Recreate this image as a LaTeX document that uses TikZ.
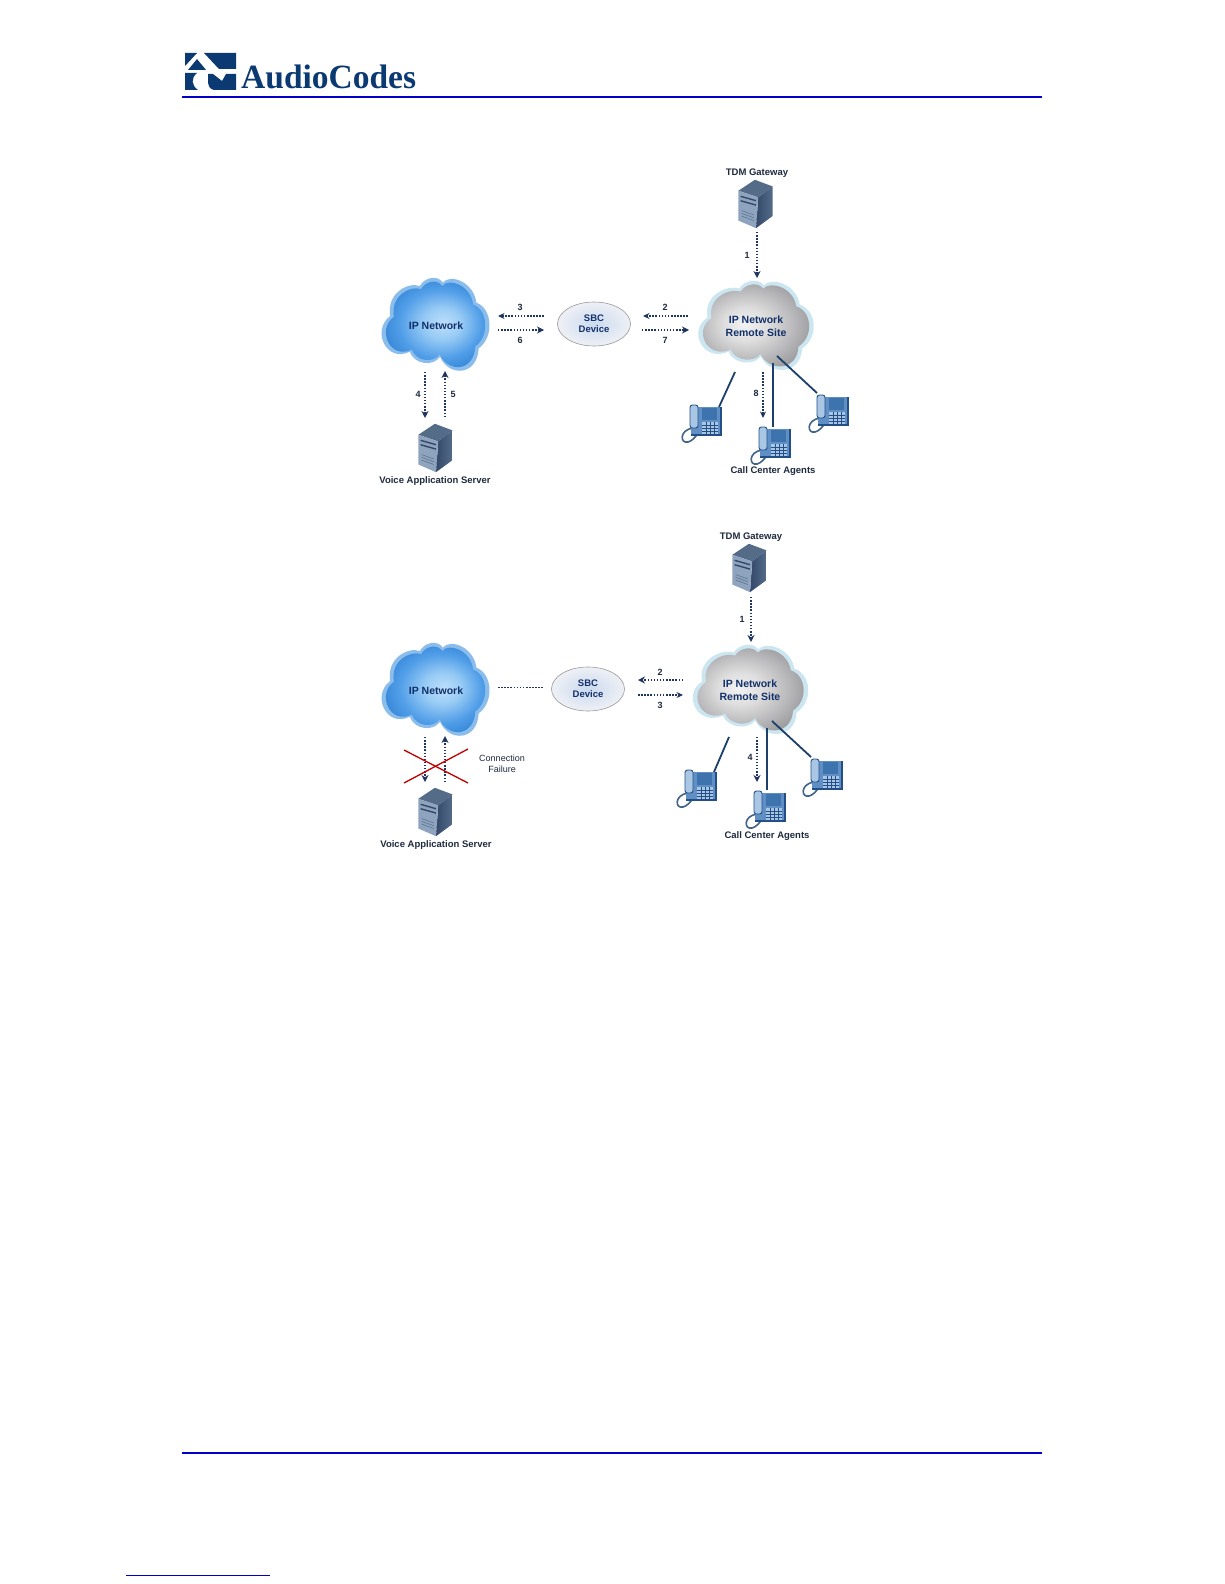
\documentclass[tikz,border=0pt]{standalone}
\usepackage{fontspec}
\setmainfont{Liberation Sans}
\newfontfamily\logofont{Liberation Serif}
\usetikzlibrary{arrows.meta,shapes.geometric}
\definecolor{navy}{HTML}{0B3A73}
\definecolor{flowc}{HTML}{1F3560}
\definecolor{rulec}{HTML}{0000C8}
\definecolor{labc}{HTML}{1E2A3E}
\definecolor{netc}{HTML}{12306A}
\definecolor{bluehalo}{HTML}{8ABDEC}
\definecolor{greyhalo}{HTML}{CBE6F1}
\definecolor{srvfront}{HTML}{8DA3BE}
\definecolor{srvright}{HTML}{34496A}
\definecolor{srvtop}{HTML}{546C88}
\definecolor{phbody}{HTML}{5F8FC4}
\definecolor{phdark}{HTML}{234F86}
\definecolor{phscreen}{HTML}{3E74AE}
\definecolor{phlight}{HTML}{A9C6E4}
\definecolor{sbcin}{HTML}{CBDAEF}
\definecolor{sbcout}{HTML}{EEF0F5}
\pgfdeclareradialshading{cloudblue}{\pgfpoint{5bp}{1bp}}{rgb(0bp)=(.74,.87,.98);rgb(8bp)=(.60,.80,.96);rgb(18bp)=(.32,.62,.91);rgb(34bp)=(.08,.42,.77);rgb(50bp)=(.06,.38,.72)}
\pgfdeclareradialshading{cloudgrey}{\pgfpoint{-4bp}{1bp}}{rgb(0bp)=(.95,.95,.95);rgb(9bp)=(.87,.87,.87);rgb(20bp)=(.71,.71,.72);rgb(34bp)=(.50,.50,.51);rgb(50bp)=(.47,.47,.47)}
\tikzset{
  flowthick/.style={draw=flowc,line width=1.7pt,dash pattern=on 1.4pt off 1.7pt,-{Stealth[length=7pt,width=7pt,flowc]}},
  flowthin/.style={draw=flowc,line width=1.2pt,dash pattern=on 1.6pt off 1.5pt,-{Stealth[length=6.5pt,width=6pt,flowc]}},
  flowplain/.style={draw=flowc,line width=.9pt,dash pattern=on 1.6pt off 1.5pt},
  phoneline/.style={draw=phdark!80!black,line width=1.8pt},
  redcross/.style={draw=red!75!black,line width=1.3pt},
  biglab/.style={font=\fontsize{9.5}{11}\selectfont\bfseries,text=labc,inner sep=0pt},
  numlab/.style={font=\fontsize{9}{10}\selectfont\bfseries,text=labc,inner sep=0pt},
  netlab/.style={font=\fontsize{10.5}{13}\selectfont\bfseries,text=netc,inner sep=0pt,align=center},
  sbclab/.style={font=\fontsize{9.5}{11}\selectfont\bfseries,text=netc,inner sep=0pt,align=center},
  faillab/.style={font=\fontsize{9}{11.3}\selectfont,text=labc,inner sep=0pt,align=center},
  sbcshape/.style={ellipse,draw=black!40,line width=.6pt,inner color=sbcin,outer color=sbcout,minimum width=73pt,minimum height=44pt,inner sep=0pt},
  rulebar/.style={draw=rulec,line width=2pt},
  rulefine/.style={draw=rulec,line width=1pt},
  logopart/.style={fill=navy,draw=none},
}
\newcommand\cloudpath{(6.7,-42.3) .. controls (14,-51.7) and (37.3,-43.3) .. (40,-22.3)
 .. controls (55.7,-16.7) and (58,11.7) .. (42.3,23.3)
 .. controls (40.7,51.7) and (12.3,51.7) .. (4,31.7)
 .. controls (-2.7,41.7) and (-21,40) .. (-26,26.7)
 .. controls (-49.3,38.3) and (-64.3,5) .. (-45.3,-9)
 .. controls (-49.3,-31.7) and (-27.7,-43.3) .. (-16,-39)
 .. controls (-11,-48.3) and (2.3,-50) .. (6.7,-42.3) -- cycle}
% #1 x, #2 y, #3 xscale, #4 yscale, #5 halo, #6 shading
\newcommand\cloudat[6]{%
 \begin{scope}[shift={(#1,#2)},xscale=#3,yscale=#4]
  \fill[#5] \cloudpath;
  \begin{scope}[scale=.92]
   \shade[shading=#6] \cloudpath;
  \end{scope}
 \end{scope}}
\newcommand\serverat[3]{%
 \begin{scope}[shift={(#1,#2)},scale=#3]
  \fill[srvtop] (-16,-12) -- (-1,-22) -- (15,-16) -- (2,-6) -- cycle;
  \shade[left color=srvright,right color=srvtop] (2,-6) -- (15,-16) -- (15,11) -- (0,22) -- cycle;
  \fill[srvfront] (-16,-12) -- (2,-6) -- (0,22) -- (-16,15) -- cycle;
  \draw[srvright,line width=1.4pt] (-14,-7) -- (0,-3) (-14,-3) -- (0,1);
  \draw[srvright!60!srvfront,line width=.5pt] (-13,6) -- (-2,10) (-13,8.5) -- (-2,12.5) (-13,11) -- (-2,15);
 \end{scope}}
\newcommand\phoneat[2]{%
 \begin{scope}[shift={(#1,#2)}]
  \draw[phbody!70!black,line width=1.6pt] (-12,8) .. controls (-26,10) and (-25,24) .. (-17,22) .. controls (-13,21) and (-11,18) .. (-8,15);
  \fill[phbody] (-14,-13) rectangle (16,15);
  \draw[phdark,line width=1.2pt] (-14,15) -- (16,15) -- (16,-13);
  \fill[phscreen] (-3,-12) rectangle (12,0);
  \fill[phlight] (-3,2) rectangle (13,13.5);
  \draw[phdark,line width=.7pt] (-3,5) -- (13,5) (-3,8) -- (13,8) (-3,11) -- (13,11)
     (1,2) -- (1,13.5) (5,2) -- (5,13.5) (9,2) -- (9,13.5);
  \fill[phlight,draw=phdark,line width=.9pt,rounded corners=2.5pt] (-15,-15) rectangle (-7,8);
 \end{scope}}
\newcommand\flow[4]{%
 \coordinate (#2s) at (#3); \coordinate (#2e) at (#4);
 \draw[#1] (#2s) -- (#2e);}
\begin{document}
\begin{tikzpicture}[x=1pt,y=-1pt]
\useasboundingbox (0,0) rectangle (1224,1584);
\fill[white] (0,0) rectangle (1224,1584);
% header and footer
\coordinate (hdl) at (182,97); \coordinate (hdr) at (1042,97);
\draw[rulebar] (hdl) -- (hdr);
\coordinate (ftl) at (182,1453); \coordinate (ftr) at (1042,1453);
\draw[rulebar] (ftl) -- (ftr);
\coordinate (fnl) at (126,1575); \coordinate (fnr) at (270,1575);
\draw[rulefine] (fnl) -- (fnr);
% logo
\fill[logopart] (185,53) -- (197,53) -- (185,66) -- cycle;
\fill[logopart] (204,53) -- (236,53) -- (236,69) -- (219,69) -- cycle;
\fill[logopart] (197,59) -- (206,70) -- (188,70) -- cycle;
\fill[logopart] (185,73) -- (197,73) .. controls (191,78) and (191,85) .. (198,90) -- (185,90) -- cycle;
\fill[logopart] (208,74) -- (213,74) -- (222,81) -- (226,74) -- (236,74) -- (236,90) -- (214,90) .. controls (209,89) and (208,85) .. (208,80) -- cycle;
\node[anchor=base west,inner sep=0pt,text=navy,font=\logofont\fontsize{34}{36}\selectfont\bfseries,xscale=.985] (logotext) at (241,89) {AudioCodes};
% ---------- first diagram
\cloudat{436}{325}{1.01}{1}{bluehalo}{cloudblue}
\cloudat{756.5}{326}{1.08}{.96}{greyhalo}{cloudgrey}
\node[sbcshape] (sbcA) at (594,324) {};
\node[netlab] (netA) at (436,326) {IP Network};
\node[netlab] (remoteA) at (756,326) {IP Network\\Remote Site};
\node[sbclab] (sbctextA) at (594,324) {SBC\\Device};
\serverat{756}{204}{1.1}
\serverat{436}{448}{1.1}
\phoneat{705}{420}
\phoneat{774}{442}
\phoneat{832}{410}
\node[biglab] (tdmA) at (757,173) {TDM Gateway};
\node[biglab] (vasA) at (435,481) {Voice Application Server};
\node[biglab] (ccaA) at (773,471) {Call Center Agents};
\flow{phoneline}{pa1}{735,372}{719,407}
\flow{phoneline}{pa2}{773,363}{773,427}
\flow{phoneline}{pa3}{777,356}{817,393}
\flow{flowthin}{fa3}{544,316}{498,316}
\flow{flowthick}{fa6}{498,330}{544,330}
\flow{flowthick}{fa4}{425,372}{425,418}
\flow{flowthick}{fa5}{445,417}{445,371}
\flow{flowthin}{fa2}{688,316}{643,316}
\flow{flowthick}{fa7}{642,330}{689,330}
\flow{flowthick}{fa1}{757,232}{757,278}
\flow{flowthin}{fa8}{763,372}{763,418}
\node[numlab] (na1) at (747,255) {1};
\node[numlab] (na2) at (665,307) {2};
\node[numlab] (na3) at (520,307) {3};
\node[numlab] (na4) at (418,394) {4};
\node[numlab] (na5) at (453,394) {5};
\node[numlab] (na6) at (520,340) {6};
\node[numlab] (na7) at (665,340) {7};
\node[numlab] (na8) at (756,393) {8};
% ---------- second diagram
\cloudat{436}{690}{1.01}{1}{bluehalo}{cloudblue}
\cloudat{751}{690}{1.08}{.96}{greyhalo}{cloudgrey}
\node[sbcshape] (sbcB) at (588,689) {};
\node[netlab] (netB) at (436,691) {IP Network};
\node[netlab] (remoteB) at (750,690) {IP Network\\Remote Site};
\node[sbclab] (sbctextB) at (588,689) {SBC\\Device};
\serverat{750}{568}{1.1}
\serverat{436}{812}{1.1}
\phoneat{700}{785}
\phoneat{769}{806}
\phoneat{826}{774}
\node[biglab] (tdmB) at (751,537) {TDM Gateway};
\node[biglab] (vasB) at (436,845) {Voice Application Server};
\node[biglab] (ccaB) at (767,836) {Call Center Agents};
\node[faillab] (failB) at (502,764) {Connection\\Failure};
\flow{phoneline}{pb1}{729,737}{714,772}
\flow{phoneline}{pb2}{767,728}{767,790}
\flow{phoneline}{pb3}{772,721}{811,757}
\flow{flowplain}{fbp}{498,687}{544,687}
\flow{flowthick}{fb2}{683,680}{638,680}
\flow{flowthin}{fb3}{638,695}{683,695}
\flow{flowthick}{fb4}{425,737}{425,782}
\flow{flowthick}{fb5}{445,782}{445,736}
\flow{flowthick}{fb1}{751,597}{751,642}
\flow{flowthick}{fb8}{757,737}{757,782}
\flow{redcross}{xa}{404,750}{468,783}
\flow{redcross}{xb}{404,783}{468,749}
\node[numlab] (nb1) at (742,619) {1};
\node[numlab] (nb2) at (660,672) {2};
\node[numlab] (nb3) at (660,705) {3};
\node[numlab] (nb4) at (750,757) {4};
\end{tikzpicture}
\end{document}
